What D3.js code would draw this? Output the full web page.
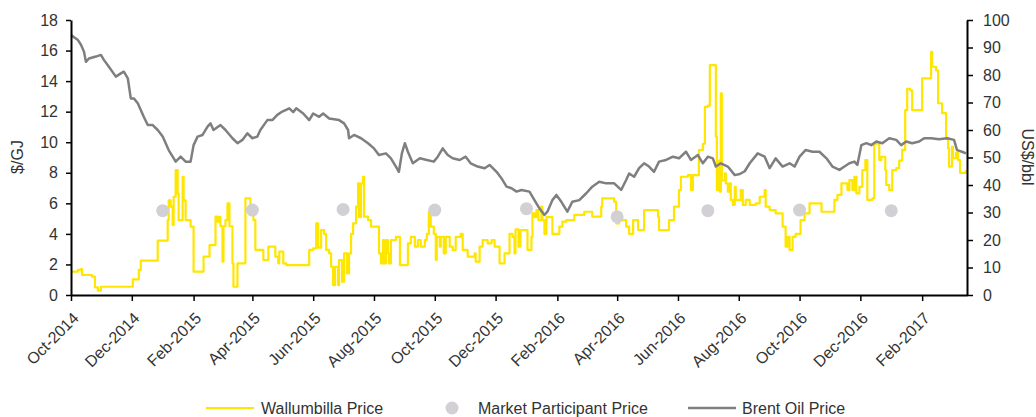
<!DOCTYPE html>
<html><head><meta charset="utf-8">
<script src="https://cdn.jsdelivr.net/npm/d3@7/dist/d3.min.js"></script>
<style>
body{margin:0;background:#fff;}
text{font-family:"Liberation Sans",Arial,sans-serif;fill:#333;}
</style></head>
<body><svg id="c" width="1036" height="417"></svg>
<script>
const xTickLabels = ["Oct-2014","Dec-2014","Feb-2015","Apr-2015","Jun-2015","Aug-2015","Oct-2015","Dec-2015","Feb-2016","Apr-2016","Jun-2016","Aug-2016","Oct-2016","Dec-2016","Feb-2017"];
const leftTicks = [0,2,4,6,8,10,12,14,16,18];
const rightTicks = [0,10,20,30,40,50,60,70,80,90,100];
const seriesNames = ["Wallumbilla Price","Market Participant Price","Brent Oil Price"];

const wallumbilla = [["2014-10-01",1.53],["2014-10-08",1.64],["2014-10-11",1.7],["2014-10-12",1.31],["2014-10-22",1.2],["2014-10-25",0.5],["2014-10-28",0.28],["2014-10-31",0.54],["2014-12-02",1.02],["2014-12-08",1.64],["2014-12-10",2.25],["2014-12-27",3.56],["2015-01-06",4.9],["2015-01-07",6.2],["2015-01-09",5.78],["2015-01-11",4.58],["2015-01-12",6.43],["2015-01-14",8.18],["2015-01-16",6.65],["2015-01-17",4.9],["2015-01-21",7.74],["2015-01-22",6.2],["2015-01-24",4.9],["2015-01-29",4.47],["2015-02-01",1.53],["2015-02-11",2.51],["2015-02-17",3.27],["2015-02-23",5.13],["2015-02-25",4.8],["2015-02-26",5.1],["2015-02-28",4.5],["2015-03-02",2.18],["2015-03-03",4.5],["2015-03-05",4.9],["2015-03-07",6.0],["2015-03-09",4.5],["2015-03-12",2.07],["2015-03-13",0.54],["2015-03-17",2.07],["2015-03-25",6.33],["2015-03-30",5.24],["2015-04-02",4.9],["2015-04-04",2.95],["2015-04-12",2.29],["2015-04-17",3.16],["2015-04-24",2.51],["2015-04-27",2.07],["2015-04-28",2.84],["2015-05-02",2.07],["2015-05-05",1.96],["2015-05-28",2.95],["2015-06-01",3.05],["2015-06-04",4.69],["2015-06-06",3.1],["2015-06-09",4.25],["2015-06-12",4.0],["2015-06-14",2.95],["2015-06-17",2.73],["2015-06-19",1.85],["2015-06-21",0.65],["2015-06-23",1.85],["2015-06-26",0.65],["2015-06-27",2.29],["2015-06-30",0.87],["2015-07-02",2.73],["2015-07-05",1.42],["2015-07-07",2.73],["2015-07-09",4.0],["2015-07-11",4.69],["2015-07-14",5.78],["2015-07-16",7.3],["2015-07-17",5.1],["2015-07-19",7.3],["2015-07-21",7.74],["2015-07-22",5.13],["2015-07-26",4.9],["2015-07-29",4.47],["2015-08-06",2.73],["2015-08-08",2.07],["2015-08-10",3.6],["2015-08-11",2.07],["2015-08-13",3.6],["2015-08-15",2.73],["2015-08-16",2.07],["2015-08-18",3.6],["2015-08-23",3.8],["2015-08-27",1.96],["2015-09-04",3.38],["2015-09-07",3.8],["2015-09-11",3.16],["2015-09-14",3.6],["2015-09-17",3.16],["2015-09-21",3.6],["2015-09-23",4.0],["2015-09-25",5.45],["2015-09-27",4.47],["2015-09-30",4.0],["2015-10-02",2.29],["2015-10-03",3.8],["2015-10-06",3.16],["2015-10-07",3.8],["2015-10-10",2.73],["2015-10-12",3.8],["2015-10-16",3.16],["2015-10-19",2.95],["2015-10-22",3.8],["2015-10-27",4.0],["2015-10-29",2.95],["2015-11-03",2.51],["2015-11-10",2.73],["2015-11-11",2.18],["2015-11-15",3.16],["2015-11-18",3.6],["2015-11-23",3.38],["2015-11-27",3.6],["2015-11-30",3.16],["2015-12-05",2.07],["2015-12-10",2.73],["2015-12-15",4.0],["2015-12-18",3.8],["2015-12-20",2.73],["2015-12-21",4.3],["2015-12-24",3.16],["2015-12-26",4.25],["2016-01-02",2.95],["2016-01-06",3.8],["2016-01-07",5.34],["2016-01-09",5.1],["2016-01-11",5.56],["2016-01-13",4.9],["2016-01-16",5.78],["2016-01-17",4.9],["2016-01-19",4.0],["2016-01-21",5.1],["2016-01-27",4.0],["2016-02-03",4.47],["2016-02-06",4.8],["2016-02-10",4.9],["2016-02-18",5.24],["2016-02-28",5.45],["2016-03-07",5.13],["2016-03-16",5.78],["2016-03-17",6.33],["2016-03-29",6.11],["2016-03-31",4.69],["2016-04-03",4.9],["2016-04-10",4.47],["2016-04-13",4.0],["2016-04-17",4.9],["2016-04-22",4.25],["2016-04-28",5.56],["2016-05-12",5.13],["2016-05-13",4.25],["2016-05-23",4.9],["2016-05-28",5.78],["2016-06-02",6.87],["2016-06-04",7.74],["2016-06-11",7.85],["2016-06-14",6.87],["2016-06-16",7.85],["2016-06-22",9.49],["2016-06-26",9.9],["2016-06-28",12.32],["2016-07-01",12.4],["2016-07-03",15.05],["2016-07-09",10.36],["2016-07-10",6.87],["2016-07-12",8.8],["2016-07-13",6.76],["2016-07-14",13.2],["2016-07-15",7.5],["2016-07-18",7.96],["2016-07-19",7.3],["2016-07-21",6.76],["2016-07-23",7.3],["2016-07-24",6.22],["2016-07-26",5.89],["2016-07-28",7.08],["2016-07-29",6.22],["2016-08-03",6.87],["2016-08-05",5.89],["2016-08-08",6.22],["2016-08-12",5.89],["2016-08-18",6.0],["2016-08-22",6.43],["2016-08-27",6.87],["2016-08-28",5.78],["2016-09-01",5.56],["2016-09-07",5.34],["2016-09-14",4.47],["2016-09-17",3.16],["2016-09-19",3.8],["2016-09-21",2.95],["2016-09-24",3.8],["2016-09-27",4.0],["2016-10-02",4.9],["2016-10-06",5.34],["2016-10-11",6.0],["2016-10-23",5.45],["2016-11-05",6.22],["2016-11-08",6.55],["2016-11-12",7.3],["2016-11-18",6.87],["2016-11-20",7.52],["2016-11-23",6.87],["2016-11-25",7.74],["2016-11-27",6.65],["2016-11-30",7.08],["2016-12-03",8.18],["2016-12-06",8.83],["2016-12-08",6.22],["2016-12-13",6.33],["2016-12-15",9.9],["2016-12-20",8.83],["2016-12-22",9.05],["2016-12-26",8.18],["2016-12-27",7.2],["2016-12-30",6.87],["2017-01-02",8.18],["2017-01-06",8.3],["2017-01-09",8.8],["2017-01-12",9.5],["2017-01-15",12.1],["2017-01-17",13.5],["2017-01-20",13.4],["2017-01-22",12.1],["2017-02-01",14.18],["2017-02-10",15.92],["2017-02-11",14.94],["2017-02-15",14.7],["2017-02-17",12.55],["2017-02-21",11.9],["2017-02-25",10.26],["2017-02-27",9.6],["2017-02-28",8.4],["2017-03-03",9.7],["2017-03-04",8.95],["2017-03-07",9.3],["2017-03-09",8.83],["2017-03-11",8.0],["2017-03-17",8.18]];

const marketParticipant = [["2015-01-01",5.52],["2015-04-01",5.56],["2015-07-01",5.6],["2015-10-01",5.56],["2016-01-01",5.65],["2016-04-01",5.12],["2016-07-01",5.52],["2016-10-01",5.56],["2017-01-01",5.52]];

const brentOil = [["2014-10-01",94.5],["2014-10-08",92.7],["2014-10-11",91],["2014-10-14",88.5],["2014-10-16",84.8],["2014-10-19",86],["2014-10-26",86.7],["2014-10-31",87.3],["2014-11-03",85.5],["2014-11-08",83],["2014-11-15",79.4],["2014-11-20",80.6],["2014-11-23",81.2],["2014-11-27",78.8],["2014-11-30",71.5],["2014-12-03",71.5],["2014-12-07",69.7],["2014-12-10",67.3],["2014-12-13",64.8],["2014-12-17",61.8],["2014-12-22",61.8],["2014-12-27",60],["2015-01-01",57.6],["2015-01-04",55.2],["2015-01-07",52.7],["2015-01-11",50.3],["2015-01-14",48.5],["2015-01-19",50.3],["2015-01-24",48.5],["2015-01-29",48.5],["2015-02-01",54.5],["2015-02-05",57.6],["2015-02-10",58.2],["2015-02-15",61.2],["2015-02-18",62.4],["2015-02-21",60],["2015-02-28",61.8],["2015-03-05",60],["2015-03-12",57],["2015-03-17",55.2],["2015-03-22",56.4],["2015-03-27",58.8],["2015-04-01",57],["2015-04-06",57.6],["2015-04-09",60],["2015-04-16",63.6],["2015-04-21",63.6],["2015-04-26",65.5],["2015-05-01",66.7],["2015-05-08",67.9],["2015-05-12",66.5],["2015-05-15",67.9],["2015-05-22",66],["2015-05-28",63.6],["2015-06-01",66],["2015-06-07",64.8],["2015-06-11",66],["2015-06-17",64.2],["2015-06-27",63.6],["2015-07-02",62.4],["2015-07-06",60],["2015-07-07",57],["2015-07-12",58.2],["2015-07-19",57],["2015-07-26",55.2],["2015-08-01",53.3],["2015-08-06",50.9],["2015-08-13",51.5],["2015-08-18",49.7],["2015-08-23",46.7],["2015-08-26",44.8],["2015-08-29",51.5],["2015-09-01",55.2],["2015-09-04",52.1],["2015-09-09",47.9],["2015-09-16",49.7],["2015-09-23",49.1],["2015-09-30",48.5],["2015-10-04",50.3],["2015-10-09",53.3],["2015-10-14",50.9],["2015-10-19",49.7],["2015-10-26",49.1],["2015-11-01",50.3],["2015-11-06",47.9],["2015-11-13",46.7],["2015-11-20",46.1],["2015-11-25",47.3],["2015-12-02",44.8],["2015-12-07",42.4],["2015-12-12",39.4],["2015-12-17",38.8],["2015-12-22",37.6],["2015-12-27",38.2],["2016-01-04",37.6],["2016-01-09",34.5],["2016-01-14",31.5],["2016-01-19",29.1],["2016-01-22",30.3],["2016-01-27",34.5],["2016-01-31",36.4],["2016-02-05",33.9],["2016-02-11",30.3],["2016-02-16",33.9],["2016-02-23",34.5],["2016-03-01",37],["2016-03-07",39.4],["2016-03-14",41.2],["2016-03-21",40.6],["2016-03-29",40.6],["2016-04-05",38.2],["2016-04-10",41.8],["2016-04-13",44.2],["2016-04-18",43],["2016-04-23",46.1],["2016-04-28",47.9],["2016-05-03",46.7],["2016-05-08",44.8],["2016-05-13",48.5],["2016-05-20",49.1],["2016-05-27",50.3],["2016-06-02",49.7],["2016-06-09",52.1],["2016-06-14",49.1],["2016-06-21",50.9],["2016-06-26",47.9],["2016-07-01",50.3],["2016-07-06",49.7],["2016-07-09",46.7],["2016-07-14",47.9],["2016-07-21",46.7],["2016-07-28",43.6],["2016-08-02",44],["2016-08-07",45],["2016-08-12",47.9],["2016-08-20",51.5],["2016-08-27",50.3],["2016-09-01",46.1],["2016-09-07",49.7],["2016-09-14",46.7],["2016-09-21",47.9],["2016-09-26",46.7],["2016-10-01",50.3],["2016-10-07",52.7],["2016-10-14",52.1],["2016-10-21",52.1],["2016-10-28",49.7],["2016-11-03",46.7],["2016-11-10",45.5],["2016-11-15",46.7],["2016-11-20",47.9],["2016-11-25",48.5],["2016-11-28",47.3],["2016-12-02",54.5],["2016-12-07",55.2],["2016-12-12",54.5],["2016-12-17",55.8],["2016-12-23",55.2],["2016-12-30",57],["2017-01-06",56.4],["2017-01-11",54.5],["2017-01-16",55.8],["2017-01-22",55.2],["2017-01-29",55.8],["2017-02-03",57],["2017-02-10",57],["2017-02-18",56.6],["2017-02-26",57],["2017-03-05",56.4],["2017-03-08",52.7],["2017-03-13",52.1],["2017-03-17",51.5]];

const parse = d3.timeParse("%Y-%m-%d");
const fmt = d3.timeFormat("%b-%Y");
const svg = d3.select("#c");
const L = 71, R = 967, T = 20, B = 295;

const x = d3.scaleTime().domain([parse("2014-10-01"), parse("2017-03-18")]).range([L, R]);
const yL = d3.scaleLinear().domain([0, 18]).range([B, T]);
const yR = d3.scaleLinear().domain([0, 100]).range([B, T]);

const tickDates = xTickLabels.map(s => d3.timeParse("%b-%Y")(s));

const wall = wallumbilla.map(d => ({d: parse(d[0]), v: d[1]}));
const oil = brentOil.map(d => ({d: parse(d[0]), v: d[1]}));
const mpp = marketParticipant.map(d => ({d: parse(d[0]), v: d[1]}));

svg.append("path").datum(wall)
  .attr("fill", "none").attr("stroke", "#FFE600").attr("stroke-width", 2.2)
  .attr("stroke-linejoin", "round")
  .attr("d", d3.line().x(d => x(d.d)).y(d => yL(d.v)).curve(d3.curveStepAfter));

svg.selectAll("circle.mpp").data(mpp).enter().append("circle")
  .attr("class", "mpp").attr("cx", d => x(d.d)).attr("cy", d => yL(d.v))
  .attr("r", 6.5).attr("fill", "#D2D0D5");

svg.append("path").datum(oil)
  .attr("fill", "none").attr("stroke", "#7F7F7F").attr("stroke-width", 2.5)
  .attr("stroke-linejoin", "round")
  .attr("d", d3.line().x(d => x(d.d)).y(d => yR(d.v)));

const ax = svg.append("g").attr("transform", `translate(0,${B})`)
  .call(d3.axisBottom(x).tickValues(tickDates).tickFormat(fmt).tickSize(6).tickSizeOuter(0));
ax.selectAll("text").attr("text-anchor", "end")
  .attr("transform", "translate(-2,14) rotate(-45)")
  .attr("dx", 0).attr("dy", "0.9em").attr("y", 0).attr("x", 0)
  .style("font-size", "16px");

const al = svg.append("g").attr("transform", `translate(${L},0)`)
  .call(d3.axisLeft(yL).tickValues(leftTicks).tickSize(5).tickSizeOuter(0).tickPadding(8));
al.selectAll("text").style("font-size", "16px");

const ar = svg.append("g").attr("transform", `translate(${R},0)`)
  .call(d3.axisRight(yR).tickValues(rightTicks).tickSize(6).tickSizeOuter(0).tickPadding(10));
ar.selectAll("text").style("font-size", "16px");

svg.selectAll(".domain").attr("stroke", "#000").attr("stroke-width", 2);
svg.selectAll(".tick line").attr("stroke", "#000").attr("stroke-width", 1.5);
svg.selectAll(".tick text").attr("fill", "#333").style("font-family", "'Liberation Sans', Arial, sans-serif");

svg.append("text").attr("transform", "translate(23,157) rotate(-90)")
  .attr("text-anchor", "middle").style("font-size", "16px").text("$/GJ");
svg.append("text").attr("transform", "translate(1022,157) rotate(90)")
  .attr("text-anchor", "middle").style("font-size", "16px").text("US$/bbl");

const ly = 408;
const lg = svg.append("g");
lg.append("line").attr("x1", 206).attr("x2", 254).attr("y1", ly).attr("y2", ly)
  .attr("stroke", "#FFE600").attr("stroke-width", 2);
lg.append("text").attr("x", 261).attr("y", ly).attr("dy", "0.35em").style("font-size", "16px").text(seriesNames[0]);
lg.append("circle").attr("cx", 452).attr("cy", ly).attr("r", 6.5).attr("fill", "#D2D0D5");
lg.append("text").attr("x", 478).attr("y", ly).attr("dy", "0.35em").style("font-size", "16px").text(seriesNames[1]);
lg.append("line").attr("x1", 688).attr("x2", 736).attr("y1", ly).attr("y2", ly)
  .attr("stroke", "#7F7F7F").attr("stroke-width", 2.5);
lg.append("text").attr("x", 742).attr("y", ly).attr("dy", "0.35em").style("font-size", "16px").text(seriesNames[2]);
</script></body></html>
